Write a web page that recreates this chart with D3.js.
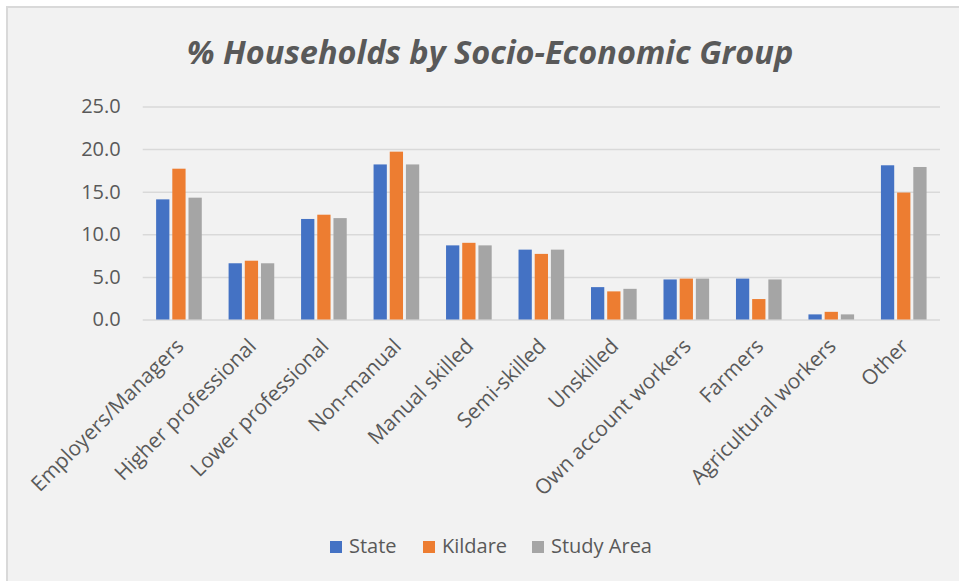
<!DOCTYPE html>
<html>
<head>
<meta charset="utf-8">
<script src="https://cdn.jsdelivr.net/npm/d3@7"></script>
<style>
  html, body { margin: 0; padding: 0; background: #ffffff; }
  svg { display: block; }
</style>
</head>
<body>
<svg id="chart" width="959" height="581"></svg>
<script>
// Socio-economic groups shown along the x axis
const categories = [
  "Employers/Managers", "Higher professional", "Lower professional", "Non-manual",
  "Manual skilled", "Semi-skilled", "Unskilled", "Own account workers",
  "Farmers", "Agricultural workers", "Other"
];
const seriesNames = ["State", "Kildare", "Study Area"];
// % of households in each group
const stateValues   = [14.1, 6.6, 11.8, 18.2, 8.7, 8.2, 3.8, 4.7, 4.8, 0.6, 18.1];
const kildareValues = [17.7, 6.9, 12.3, 19.7, 9.0, 7.7, 3.3, 4.8, 2.4, 0.9, 14.9];
const studyValues   = [14.3, 6.6, 11.9, 18.2, 8.7, 8.2, 3.6, 4.8, 4.7, 0.6, 17.9];
const yTicks = [0, 5, 10, 15, 20, 25];
const colors = ["#4472c4", "#ed7d31", "#a5a5a5"];

const seriesValues = [stateValues, kildareValues, studyValues];
const rows = categories.map((c, i) => ({
  category: c,
  values: seriesNames.map((s, j) => ({ series: s, value: seriesValues[j][i] }))
}));

const svg = d3.select("#chart");
const font = "'Open Sans', 'DejaVu Sans', sans-serif";
const textColor = "#595959";

// chart area background and frame
svg.append("rect").attr("x", 7).attr("y", 7).attr("width", 960).attr("height", 580)
  .attr("fill", "#f2f2f2").attr("stroke", "#d9d9d9").attr("stroke-width", 2);

const plot = { left: 142.7, right: 940, top: 106.5, bottom: 319.5 };

const y = d3.scaleLinear().domain([0, 25]).range([plot.bottom, plot.top]);
const x0 = d3.scaleBand().domain(categories).range([plot.left, plot.right]);
const groupW = x0.bandwidth() * 0.67;
const x1 = d3.scaleBand().domain(seriesNames)
  .range([(x0.bandwidth() - groupW) / 2, (x0.bandwidth() + groupW) / 2])
  .paddingInner(0.18).paddingOuter(0.09);
const color = d3.scaleOrdinal().domain(seriesNames).range(colors);

// title
svg.append("text")
  .attr("x", 490).attr("y", 64)
  .attr("text-anchor", "middle")
  .attr("font-family", font)
  .attr("font-size", 32.5)
  .attr("font-weight", "bold")
  .attr("font-style", "italic")
  .attr("fill", textColor)
  .text("% Households by Socio-Economic Group");

// horizontal gridlines + y labels
const yAxis = d3.axisLeft(y).tickValues(yTicks)
  .tickSize(-(plot.right - plot.left)).tickPadding(22)
  .tickFormat(d3.format(".1f"));
const gy = svg.append("g").attr("transform", `translate(${plot.left},0)`).call(yAxis);
gy.select(".domain").remove();
gy.selectAll(".tick line").attr("stroke", "#d9d9d9").attr("stroke-width", 1.5);
gy.selectAll(".tick text")
  .attr("font-family", font).attr("font-size", 20).attr("fill", textColor);

// bars
const groups = svg.append("g").selectAll("g").data(rows).join("g")
  .attr("transform", d => `translate(${x0(d.category)},0)`);
groups.selectAll("rect").data(d => d.values).join("rect")
  .attr("x", d => x1(d.series))
  .attr("width", x1.bandwidth())
  .attr("y", d => y(d.value))
  .attr("height", d => y(0) - y(d.value))
  .attr("fill", d => color(d.series));

// x axis labels, rotated
const xAxis = d3.axisBottom(x0).tickSize(0).tickPadding(0);
const gx = svg.append("g").attr("transform", `translate(0,${plot.bottom})`).call(xAxis);
gx.select(".domain").remove();
gx.selectAll(".tick text")
  .attr("font-family", font).attr("font-size", 20.8).attr("fill", textColor)
  .attr("text-anchor", "end")
  .attr("dy", "0")
  .attr("transform", "translate(6,28) rotate(-45)");

// legend
const legendX = [330, 423, 532];
const legend = svg.append("g").selectAll("g").data(seriesNames).join("g")
  .attr("transform", (d, i) => `translate(${legendX[i]},541)`);
legend.append("rect").attr("width", 12).attr("height", 12).attr("fill", d => color(d));
legend.append("text")
  .attr("x", 19).attr("y", 12)
  .attr("font-family", font).attr("font-size", 20).attr("fill", textColor)
  .text(d => d);
</script>
</body>
</html>
